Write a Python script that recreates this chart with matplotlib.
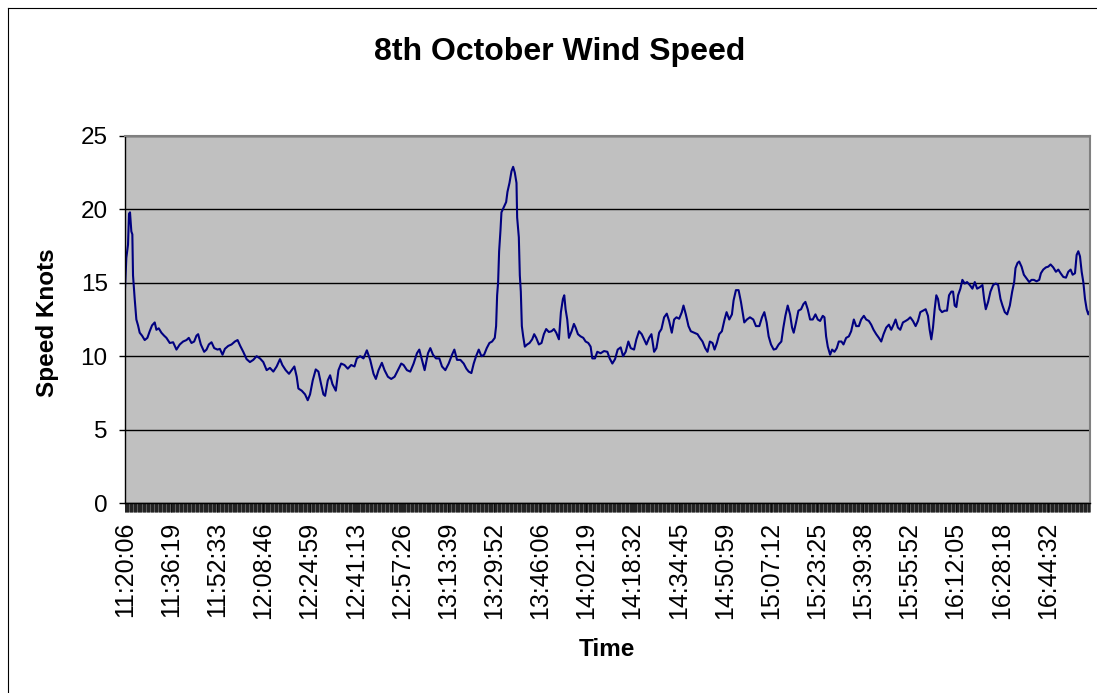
import matplotlib
matplotlib.use("Agg")
import matplotlib.pyplot as plt
from matplotlib.lines import Line2D
from matplotlib.ticker import FixedLocator, MultipleLocator

plt.rcParams["font.family"] = ["Liberation Sans", "DejaVu Sans"]

START = "11:20:06"

# minutos decorridos desde 11:20:06 e velocidade (nós)
MINUTOS = [
    0.0, 0.47, 1.06, 1.41, 1.76, 2.23, 2.58, 2.82, 3.41, 3.99,
    4.58, 5.17, 5.99, 6.93, 7.87, 8.69, 9.51, 10.45, 11.04, 11.86,
    12.80, 13.74, 14.56, 15.74, 16.91, 18.09, 19.26, 20.43, 21.61, 22.43,
    23.37, 24.31, 25.13, 25.72, 26.66, 27.83, 28.66, 29.48, 30.42, 31.36,
    32.53, 33.35, 34.29, 35.12, 36.29, 37.46, 38.64, 39.58, 40.52, 41.57,
    42.75, 43.92, 45.10, 46.27, 47.45,
    48.62, 49.80, 50.97, 52.15, 53.32, 54.49, 55.32, 56.49, 57.66, 58.60,
    59.54, 60.37, 60.95, 62.13, 63.30, 64.24, 65.06, 66.00, 67.06, 68.00,
    68.94, 69.76, 70.35, 71.29, 72.11, 72.93, 74.11, 75.05, 75.99, 77.16,
    78.33, 79.51, 80.68, 81.51, 82.68, 83.85, 85.03, 86.20, 87.38, 88.20,
    89.14, 90.31, 91.25, 92.43, 93.60, 94.78, 95.95, 97.12,
    97.94, 99.12, 100.29, 101.47, 102.64, 103.46, 104.40, 105.34, 106.52, 107.34,
    108.28, 109.33, 110.51, 111.45, 112.62, 113.80, 114.97, 115.79, 116.73, 117.91,
    119.08, 120.02, 120.84, 121.78, 122.60, 123.43, 124.37, 125.31, 126.25, 127.18,
    128.12, 129.06, 130.00, 130.47, 130.83, 131.18, 131.53, 132.00, 132.35, 133.17,
    134.00, 134.47, 135.17, 135.88, 136.46, 137.05, 137.64, 137.87, 138.46, 138.81,
    139.16, 139.52, 139.99, 140.57, 141.39, 142.22, 143.16, 143.86, 144.57, 145.51,
    146.44,
    147.26, 148.08, 149.02, 149.96, 150.79, 151.61, 152.55, 153.25, 153.96, 154.43,
    154.90, 155.48, 156.07, 157.01, 157.83, 158.42, 159.24, 160.18, 161.12, 161.94,
    162.88, 163.70, 164.29, 165.23, 166.05, 167.23, 168.40, 169.58, 170.40, 171.34,
    172.28, 173.22, 174.27, 175.10, 176.03, 176.97, 177.80, 178.97, 179.79, 180.73,
    181.67, 182.49, 183.32, 184.26, 185.08, 186.02, 186.84, 187.78, 188.60, 189.54,
    190.48, 191.30, 192.24, 193.06, 193.89, 194.83, 195.76,
    196.35, 197.17, 198.11, 198.93, 200.10, 201.28, 202.10, 203.04, 203.98, 204.80,
    205.63, 206.56, 207.27, 208.09, 208.91, 209.85, 210.79, 211.50, 212.44, 213.38,
    213.96, 214.79, 215.72, 216.55, 217.13, 217.72, 218.66, 219.72, 220.89, 221.83,
    223.01, 223.95, 224.77, 225.59, 226.29, 227.12, 228.06, 228.88, 229.82, 230.76,
    231.46, 232.17, 232.99, 233.81, 234.52, 235.10, 235.92, 236.75, 237.69, 238.51,
    239.21, 240.03, 240.86, 241.80, 242.74, 243.56, 244.38, 245.32, 245.91,
    246.49, 247.08, 247.90, 248.60, 249.43, 250.25, 250.95, 251.89, 252.60, 253.54,
    254.48, 255.30, 256.24, 257.06, 258.00, 258.82, 259.76, 260.58, 261.52, 262.34,
    263.17, 264.11, 265.04, 265.87, 266.69, 267.63, 268.57, 269.39, 270.21, 270.92,
    271.74, 272.56, 273.50, 274.44, 275.26, 276.08, 277.02, 277.96, 278.79, 279.61,
    280.55, 281.49, 282.31, 282.90, 283.48, 284.07, 284.66, 285.24, 285.83, 286.42,
    287.24, 288.18, 289.00, 289.71, 290.53, 291.12, 291.70, 292.29, 292.88, 293.70,
    294.40, 295.23,
    296.05, 296.99, 297.93, 298.76, 299.58, 300.52, 301.46, 302.04, 302.63, 303.45,
    304.27, 305.21, 306.15, 306.98, 307.80, 308.50, 309.32, 310.15, 311.09, 311.91,
    312.61, 313.08, 313.79, 314.37, 315.20, 316.02, 316.96, 317.90, 318.72, 319.54,
    320.48, 321.42, 322.01, 322.83, 323.77, 324.59, 325.41, 326.35, 327.29, 328.12,
    328.94, 329.88, 330.82, 331.64, 332.46, 333.17, 333.99, 334.57, 335.16, 335.75,
    336.34, 336.92, 337.51, 338.10, 338.68, 339.27,
]

VELOCIDADE = [
    14.6, 16.7, 17.6, 19.7, 19.8, 18.5, 18.3, 15.5, 13.9, 12.5,
    12.1, 11.6, 11.4, 11.1, 11.25, 11.7, 12.1, 12.3, 11.8, 11.9,
    11.6, 11.4, 11.25, 10.9, 10.95, 10.45, 10.8, 11.0, 11.1, 11.25,
    10.9, 11.0, 11.4, 11.5, 10.8, 10.3, 10.45, 10.8, 10.95, 10.55,
    10.45, 10.5, 10.1, 10.5, 10.7, 10.8, 11.0, 11.1, 10.7, 10.3,
    9.8, 9.6, 9.75, 10.0, 9.85,
    9.6, 9.05, 9.2, 8.95, 9.3, 9.8, 9.4, 9.05, 8.8, 9.05,
    9.3, 8.6, 7.8, 7.65, 7.4, 7.0, 7.4, 8.35, 9.1, 8.95,
    8.1, 7.4, 7.3, 8.35, 8.7, 8.1, 7.65, 9.05, 9.5, 9.4,
    9.15, 9.4, 9.3, 9.85, 10.0, 9.85, 10.4, 9.75, 8.8, 8.45,
    9.05, 9.55, 9.05, 8.6, 8.45, 8.6, 9.05, 9.5,
    9.4, 9.05, 8.95, 9.5, 10.2, 10.45, 9.75, 9.05, 10.2, 10.55,
    10.1, 9.85, 9.85, 9.3, 9.05, 9.5, 10.1, 10.45, 9.75, 9.75,
    9.5, 9.15, 8.95, 8.85, 9.5, 10.0, 10.45, 10.0, 10.1, 10.55,
    10.9, 11.0, 11.25, 12.05, 14.15, 15.05, 17.15, 18.55, 19.8, 20.15,
    20.5, 21.2, 21.8, 22.6, 22.9, 22.5, 21.8, 19.45, 18.1, 15.5,
    14.4, 12.05, 11.35, 10.65, 10.8, 10.9, 11.15, 11.5, 11.25, 10.8,
    10.9,
    11.5, 11.85, 11.65, 11.7, 11.85, 11.6, 11.15, 13.0, 13.9, 14.15,
    13.2, 12.5, 11.25, 11.7, 12.2, 11.95, 11.5, 11.35, 11.25, 11.0,
    10.9, 10.65, 9.85, 9.85, 10.3, 10.2, 10.35, 10.3, 9.85, 9.5,
    9.8, 10.45, 10.6, 10.0, 10.3, 11.0, 10.55, 10.45, 11.15, 11.7,
    11.5, 11.15, 10.8, 11.25, 11.5, 10.3, 10.55, 11.6, 11.85, 12.65,
    12.9, 12.4, 11.6, 12.5, 12.65, 12.55, 13.0,
    13.45, 12.85, 12.05, 11.7, 11.6, 11.5, 11.25, 11.0, 10.55, 10.3,
    11.0, 10.9, 10.45, 10.9, 11.5, 11.7, 12.5, 13.0, 12.5, 12.85,
    13.8, 14.5, 14.5, 13.7, 13.0, 12.3, 12.5, 12.65, 12.5, 12.05,
    12.05, 12.65, 13.0, 12.3, 11.35, 10.8, 10.45, 10.5, 10.8, 11.0,
    11.95, 12.75, 13.45, 12.85, 11.95, 11.6, 12.3, 13.1, 13.2, 13.55,
    13.7, 13.2, 12.5, 12.5, 12.85, 12.5, 12.4, 12.75, 12.65,
    11.35, 10.65, 10.1, 10.45, 10.3, 10.55, 11.0, 11.0, 10.8, 11.25,
    11.35, 11.7, 12.5, 12.05, 12.05, 12.5, 12.75, 12.5, 12.4, 12.15,
    11.8, 11.5, 11.25, 11.0, 11.5, 11.95, 12.15, 11.8, 12.15, 12.5,
    11.95, 11.8, 12.3, 12.4, 12.5, 12.65, 12.4, 12.05, 12.4, 13.0,
    13.1, 13.2, 12.75, 11.8, 11.15, 11.95, 13.2, 14.15, 13.9, 13.2,
    13.0, 13.1, 13.1, 14.15, 14.4, 14.4, 13.45, 13.35, 14.15, 14.6,
    15.2, 14.95,
    15.05, 14.85, 14.6, 15.05, 14.6, 14.7, 14.85, 13.9, 13.2, 13.7,
    14.4, 14.85, 14.95, 14.85, 13.9, 13.45, 13.0, 12.85, 13.45, 14.4,
    15.05, 16.0, 16.35, 16.45, 16.1, 15.55, 15.3, 15.05, 15.2, 15.2,
    15.1, 15.2, 15.65, 15.9, 16.05, 16.1, 16.25, 16.05, 15.75, 15.9,
    15.65, 15.4, 15.35, 15.75, 15.9, 15.55, 15.65, 16.9, 17.15, 16.8,
    15.75, 15.05, 13.9, 13.2, 12.85, 13.1,
]

ROTULOS_X = ["11:20:06", "11:36:19", "11:52:33", "12:08:46", "12:24:59",
             "12:41:13", "12:57:26", "13:13:39", "13:29:52", "13:46:06",
             "14:02:19", "14:18:32", "14:34:45", "14:50:59", "15:07:12",
             "15:23:25", "15:39:38", "15:55:52", "16:12:05", "16:28:18",
             "16:44:32"]
Y_TICKS = [0, 5, 10, 15, 20, 25]


def segundos(hms):
    h, m, s = (int(p) for p in hms.split(":"))
    return h * 3600 + m * 60 + s


def minutos_desde_inicio(hms):
    return (segundos(hms) - segundos(START)) / 60


W, H = 1097, 693
fig = plt.figure(figsize=(W / 100, H / 100), dpi=100)
ax = fig.add_axes([125 / W, 1 - 503 / H, (1090 - 125) / W, (503 - 136) / H])
ax.set_facecolor("#c0c0c0")

ax.plot(MINUTOS, VELOCIDADE, color="#000080", linewidth=1.5)

ax.set_xlim(0, MINUTOS[-1])
ax.set_ylim(0, 25)
ax.set_yticks(Y_TICKS)
ax.yaxis.grid(True, color="black", linewidth=1.0)
ax.set_axisbelow(True)

# rótulos a cada ~16 min; marcas de categoria densas formando uma faixa
ax.xaxis.set_major_locator(FixedLocator([minutos_desde_inicio(t) for t in ROTULOS_X]))
ax.set_xticklabels(ROTULOS_X, rotation=90, va="top", ha="center")
ax.xaxis.set_minor_locator(MultipleLocator(0.2))
ax.xaxis.remove_overlapping_locs = False
ax.tick_params(axis="x", which="both", direction="out", length=6.5,
               width=0.45, color="black", pad=7, labelsize=18)
ax.tick_params(axis="y", direction="out", length=4.5, width=1.0,
               pad=8, labelsize=17.5)

for lado in ("top", "right"):
    ax.spines[lado].set_color("#808080")
    ax.spines[lado].set_linewidth(1.5)
for lado in ("left", "bottom"):
    ax.spines[lado].set_color("black")
    ax.spines[lado].set_linewidth(1.0)

fig.text(560 / W, 1 - 52 / H, "8th October Wind Speed", ha="center",
         va="center", fontsize=23, fontweight="bold")
fig.text(48 / W, 1 - 323 / H, "Speed Knots", ha="center", va="center",
         rotation=90, fontsize=17.5, fontweight="bold")
fig.text(607 / W, 1 - 650 / H, "Time", ha="center", va="center",
         fontsize=17.5, fontweight="bold")

# moldura da área do gráfico (cortada à direita e embaixo)
fig.add_artist(Line2D([8 / W, 1], [1 - 8 / H, 1 - 8 / H], color="black",
                      linewidth=0.8, transform=fig.transFigure))
fig.add_artist(Line2D([8 / W, 8 / W], [0, 1 - 8 / H], color="black",
                      linewidth=0.8, transform=fig.transFigure))

fig.savefig("out.png", dpi=100, facecolor="white")
